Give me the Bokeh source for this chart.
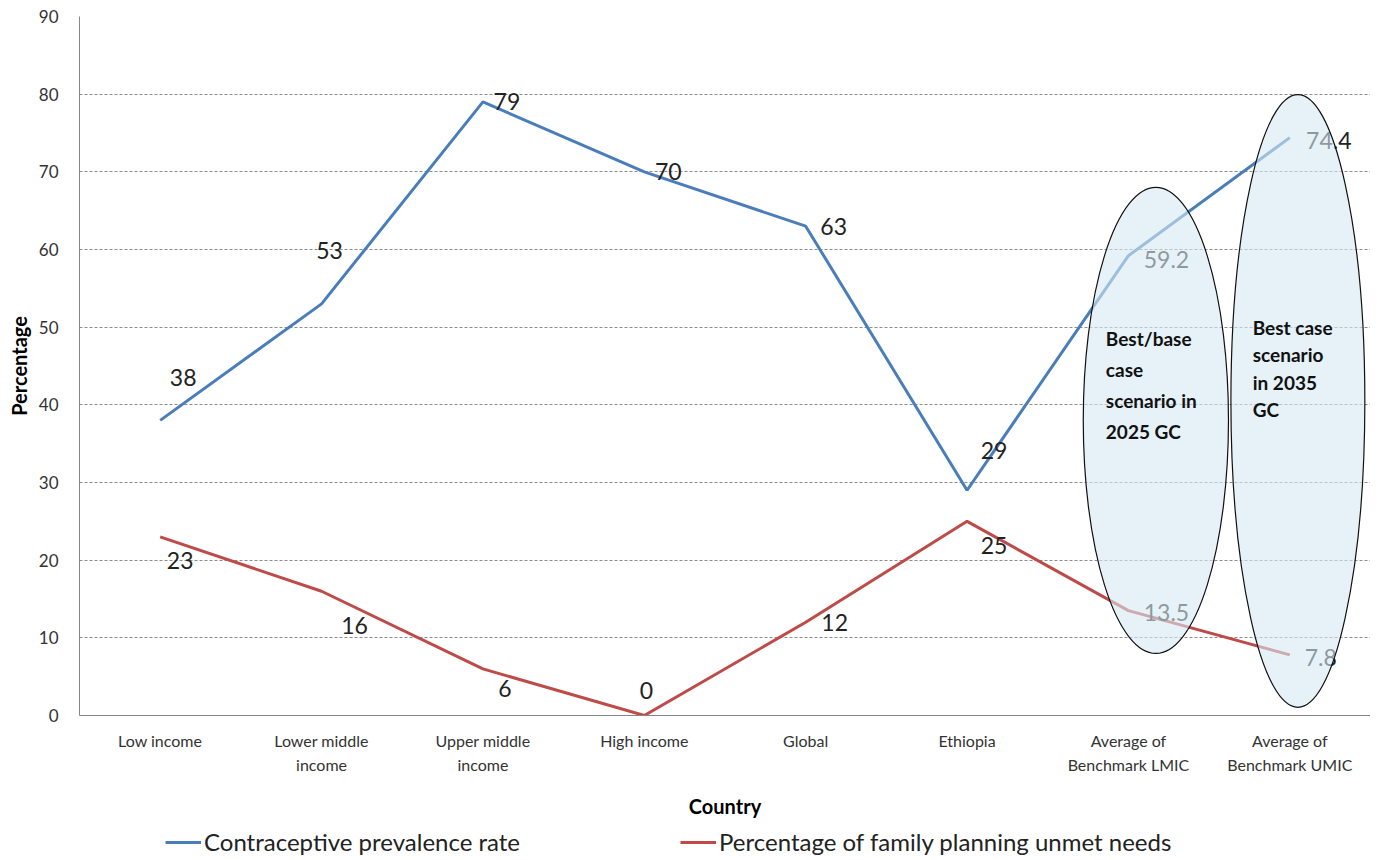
from bokeh.plotting import figure
from bokeh.layouts import column
from bokeh.models import ColumnDataSource, FixedTicker, Legend, LegendItem, Range1d
from bokeh.core.properties import value
from bokeh.embed import file_html
from bokeh.resources import INLINE

# ---- data ----
categories = ["Low income", "Lower middle\nincome", "Upper middle\nincome", "High income",
              "Global", "Ethiopia", "Average of\nBenchmark LMIC", "Average of\nBenchmark UMIC"]
cpr = [38, 53, 79, 70, 63, 29, 59.2, 74.4]
unmet = [23, 16, 6, 0, 12, 25, 13.5, 7.8]
cpr_labels = ["38", "53", "79", "70", "63", "29", "59.2", "74.4"]
unmet_labels = ["23", "16", "6", "0", "12", "25", "13.5", "7.8"]
y_ticks = [0, 10, 20, 30, 40, 50, 60, 70, 80, 90]
scenario_lmic = "Best/base\ncase\nscenario in\n2025  GC"
scenario_umic = "Best case\nscenario\nin 2035\nGC"
series_names = ["Contraceptive prevalence rate", "Percentage of family planning unmet needs"]

# ---- styles / positions ----
FONT = "Lato"
BLUE = "#4A7EBB"
RED = "#BE4B48"
xpos = [i + 0.5 for i in range(len(categories))]
cpr_dx = [23, 8, 24, 24, 28, 27, 38, 39]
cpr_dy = [-43, -53, 0, 0, 0, -40, 4, 3]
unmet_dx = [20, 33, 22, 2, 29, 27, 38, 31]
unmet_dy = [24, 34, 20, -25, 0, 24, 2, 3]

p = figure(frame_width=1291, frame_height=699, output_backend="svg", toolbar_location=None,
           x_range=Range1d(0, 8), y_range=Range1d(0, 90),
           min_border_left=79, min_border_right=0, min_border_top=16, min_border_bottom=108)
p.outline_line_color = None
p.background_fill_color = "white"

# grid
p.xgrid.grid_line_color = None
p.ygrid.grid_line_color = "#8c8c8c"
p.ygrid.grid_line_dash = "3 2"
p.ygrid.grid_line_width = 1
p.ygrid.ticker = FixedTicker(ticks=y_ticks)

# y axis
p.yaxis.ticker = FixedTicker(ticks=y_ticks)
p.yaxis.axis_line_color = "#868686"
p.yaxis.major_tick_line_color = None
p.yaxis.minor_tick_line_color = None
p.yaxis.major_label_text_font = FONT
p.yaxis.major_label_text_font_size = "17px"
p.yaxis.major_label_text_color = "#333333"
p.yaxis.major_label_standoff = 15
p.yaxis.axis_label = "Percentage"
p.yaxis.axis_label_text_font = FONT
p.yaxis.axis_label_text_font_style = "bold"
p.yaxis.axis_label_text_font_size = "20px"
p.yaxis.axis_label_text_color = "#000000"
p.yaxis.axis_label_standoff = 5

# x axis
p.xaxis.ticker = FixedTicker(ticks=xpos)
p.xaxis.major_label_overrides = {x: c for x, c in zip(xpos, categories)}
p.xaxis.axis_line_color = "#868686"
p.xaxis.major_tick_line_color = None
p.xaxis.minor_tick_line_color = None
p.xaxis.major_label_text_font = FONT
p.xaxis.major_label_text_font_size = "16px"
p.xaxis.major_label_text_line_height = 1.3
p.xaxis.major_label_text_color = "#333333"
p.xaxis.major_label_standoff = 9
p.xaxis.axis_label = "Country"
p.xaxis.axis_label_text_font = FONT
p.xaxis.axis_label_text_font_style = "bold"
p.xaxis.axis_label_text_font_size = "20px"
p.xaxis.axis_label_text_color = "#000000"
p.xaxis.axis_label_standoff = 17

# lines
l1 = p.line(xpos, cpr, line_color=BLUE, line_width=3)
l2 = p.line(xpos, unmet, line_color=RED, line_width=3)

# data labels
src_c = ColumnDataSource(dict(x=xpos, y=cpr, t=cpr_labels, dx=cpr_dx, dy=cpr_dy))
src_u = ColumnDataSource(dict(x=xpos, y=unmet, t=unmet_labels, dx=unmet_dx, dy=unmet_dy))
for src in (src_c, src_u):
    p.text(x="x", y="y", text="t", x_offset="dx", y_offset="dy", source=src,
           text_font=value(FONT), text_font_size="23px", text_color="#222222",
           text_align="center", text_baseline="middle")

# scenario ellipses (drawn over the lines, semi-transparent)
p.ellipse(x=[6.67, 7.55], y=[38, 40.5], width=[0.9, 0.83], height=[60, 79],
          fill_color="#D5EAF2", fill_alpha=0.6, line_color="#111111", line_width=1.2)

p.text(x=[6.36], y=[50.0], text=[scenario_lmic],
       text_font=value(FONT), text_font_size="19px", text_font_style="bold",
       text_color="#111111", text_align="left", text_baseline="top",
       text_line_height=1.35)
p.text(x=[7.27], y=[51.5], text=[scenario_umic],
       text_font=value(FONT), text_font_size="19px", text_font_style="bold",
       text_color="#111111", text_align="left", text_baseline="top",
       text_line_height=1.2)

# legend strip below the chart
p2 = figure(frame_width=1291, frame_height=36, output_backend="svg", toolbar_location=None,
            x_range=Range1d(0, 1), y_range=Range1d(0, 1),
            x_axis_location=None, y_axis_location=None,
            min_border_left=79, min_border_right=0, min_border_top=0, min_border_bottom=0)
p2.outline_line_color = None
p2.grid.visible = False
g1 = p2.line([-2, -1], [-2, -1], line_color=BLUE, line_width=3)
g2 = p2.line([-2, -1], [-2, -1], line_color=RED, line_width=3)
legend = Legend(items=[LegendItem(label=series_names[0], renderers=[g1]),
                       LegendItem(label=series_names[1], renderers=[g2])],
                orientation="horizontal", location=(86, 3), spacing=160,
                label_text_font=FONT, label_text_font_size="24px", label_text_color="#222222",
                label_height=24, glyph_height=24,
                glyph_width=36, label_standoff=3, border_line_alpha=0,
                background_fill_alpha=0, padding=0, margin=0)
p2.add_layout(legend)

layout = column(p, p2, spacing=0)
open("out.html", "w").write(file_html(layout, INLINE))
